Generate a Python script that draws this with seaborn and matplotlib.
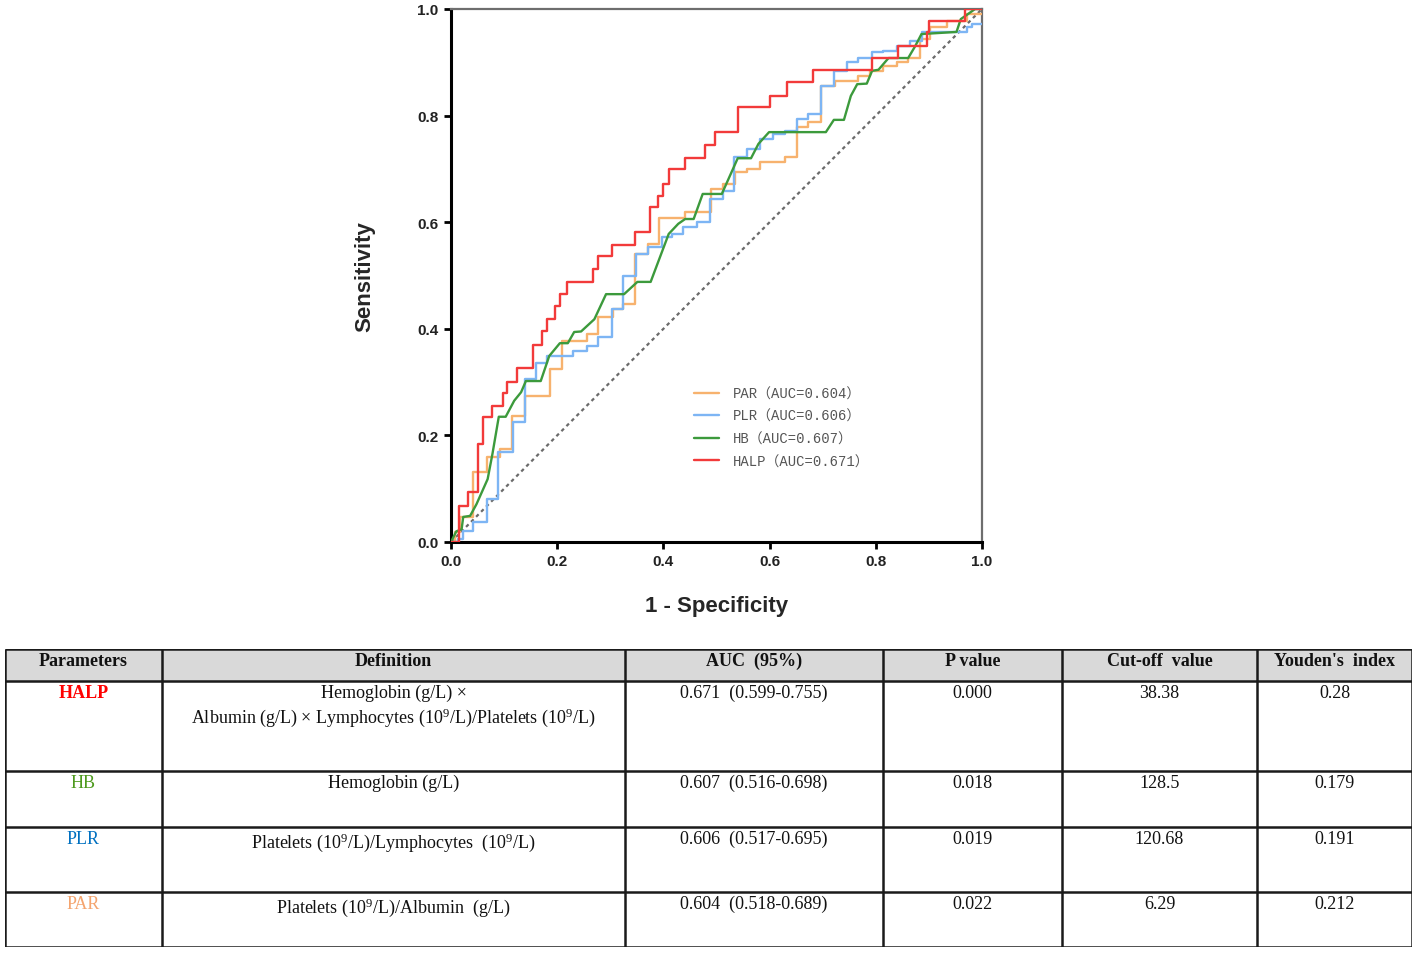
import numpy as np
import pandas as pd
import matplotlib
matplotlib.use("Agg")
import matplotlib.pyplot as plt
import seaborn as sns
from matplotlib.font_manager import FontProperties

sns.set_theme(style="white")
plt.rcParams['font.family'] = ['Liberation Sans', 'DejaVu Sans']
plt.rcParams['mathtext.fontset'] = 'custom'
plt.rcParams['mathtext.rm'] = 'Liberation Serif'
plt.rcParams['mathtext.it'] = 'Liberation Serif:italic'
plt.rcParams['mathtext.bf'] = 'Liberation Serif:bold'

# ---- ROC curve points ----
# step curves (PAR, PLR, HALP) are given as step-post corners
par_fpr = [0, 0.008, 0.017, 0.042, 0.067, 0.092, 0.114, 0.139, 0.186, 0.209, 0.256, 0.277,
           0.305, 0.324, 0.347, 0.371, 0.392, 0.44, 0.49, 0.513, 0.535, 0.557, 0.582, 0.629,
           0.652, 0.673, 0.697, 0.723, 0.767, 0.789, 0.814, 0.84, 0.861, 0.883, 0.902, 0.934,
           0.971, 1.0]
par_tpr = [0, 0.019, 0.047, 0.131, 0.16, 0.175, 0.236, 0.274, 0.325, 0.377, 0.39, 0.422,
           0.437, 0.447, 0.54, 0.559, 0.608, 0.62, 0.662, 0.672, 0.694, 0.70, 0.713, 0.722,
           0.779, 0.788, 0.855, 0.865, 0.874, 0.884, 0.893, 0.90, 0.908, 0.944, 0.966, 0.977,
           0.99, 0.99]

plr_fpr = [0, 0.013, 0.023, 0.042, 0.067, 0.089, 0.117, 0.139, 0.161, 0.18, 0.23, 0.256,
           0.277, 0.303, 0.324, 0.348, 0.371, 0.397, 0.416, 0.437, 0.463, 0.488, 0.512, 0.533,
           0.557, 0.582, 0.607, 0.629, 0.651, 0.673, 0.697, 0.721, 0.746, 0.767, 0.793, 0.814,
           0.84, 0.864, 0.887, 0.971, 0.981, 1.0]
plr_tpr = [0, 0.006, 0.02, 0.037, 0.08, 0.169, 0.225, 0.306, 0.335, 0.349, 0.358, 0.368,
           0.385, 0.437, 0.50, 0.54, 0.553, 0.572, 0.578, 0.591, 0.60, 0.643, 0.659, 0.722,
           0.737, 0.756, 0.765, 0.771, 0.794, 0.803, 0.855, 0.884, 0.90, 0.908, 0.919, 0.921,
           0.93, 0.94, 0.957, 0.966, 0.972, 0.972]

hb_fpr = [0, 0.01, 0.02, 0.023, 0.036, 0.048, 0.069, 0.078, 0.09, 0.103, 0.119, 0.132,
          0.141, 0.169, 0.185, 0.205, 0.22, 0.232, 0.245, 0.27, 0.292, 0.326, 0.351, 0.376,
          0.41, 0.428, 0.441, 0.457, 0.474, 0.51, 0.54, 0.565, 0.579, 0.599, 0.706, 0.721,
          0.74, 0.753, 0.765, 0.783, 0.793, 0.805, 0.824, 0.861, 0.874, 0.886, 0.952, 0.96,
          0.987, 1.0]
hb_tpr = [0, 0.02, 0.024, 0.047, 0.049, 0.071, 0.118, 0.165, 0.235, 0.235, 0.265, 0.281,
          0.302, 0.302, 0.349, 0.373, 0.373, 0.394, 0.395, 0.418, 0.465, 0.465, 0.488, 0.488,
          0.578, 0.597, 0.606, 0.606, 0.653, 0.653, 0.72, 0.72, 0.747, 0.769, 0.769, 0.792,
          0.792, 0.837, 0.859, 0.86, 0.884, 0.886, 0.908, 0.908, 0.93, 0.953, 0.957, 0.981,
          1.0, 1.0]

halp_fpr = [0, 0.015, 0.032, 0.05, 0.06, 0.077, 0.097, 0.105, 0.125, 0.154, 0.171, 0.18,
            0.196, 0.205, 0.218, 0.267, 0.277, 0.303, 0.346, 0.375, 0.39, 0.40, 0.41, 0.44,
            0.478, 0.497, 0.541, 0.601, 0.633, 0.682, 0.793, 0.842, 0.896, 0.90, 0.968, 1.0]
halp_tpr = [0, 0.068, 0.094, 0.184, 0.235, 0.255, 0.28, 0.30, 0.326, 0.37, 0.395, 0.418,
            0.443, 0.465, 0.488, 0.512, 0.537, 0.557, 0.582, 0.628, 0.65, 0.672, 0.70, 0.72,
            0.745, 0.769, 0.816, 0.837, 0.863, 0.886, 0.908, 0.93, 0.957, 0.977, 1.0, 1.0]

legend_labels = ['PAR（AUC=0.604）', 'PLR（AUC=0.606）', 'HB（AUC=0.607）', 'HALP（AUC=0.671）']

# ---- table contents ----
col_headers = ['Parameters', 'Definition', 'AUC  (95%)', 'P value', 'Cut-off  value', "Youden's  index"]
params = ['HALP', 'HB', 'PLR', 'PAR']
definitions = ['Hemoglobin (g/L) ×\nAlbumin (g/L) × Lymphocytes (10$^{9}$/L)/Platelets (10$^{9}$/L)',
               'Hemoglobin (g/L)',
               'Platelets (10$^{9}$/L)/Lymphocytes  (10$^{9}$/L)',
               'Platelets (10$^{9}$/L)/Albumin  (g/L)']
auc_ci = ['0.671  (0.599-0.755)', '0.607  (0.516-0.698)', '0.606  (0.517-0.695)', '0.604  (0.518-0.689)']
p_values = ['0.000', '0.018', '0.019', '0.022']
cutoffs = ['38.38', '128.5', '120.68', '6.29']
youden = ['0.28', '0.179', '0.191', '0.212']

# colours
c_par, c_plr, c_hb, c_halp = '#F7B26E', '#7DB5F4', '#3C9A3C', '#F23A3A'
param_colors = ['#FF0000', '#4E9A1E', '#0070C0', '#F4A46E']

W, H = 1417, 954
fig = plt.figure(figsize=(W / 100, H / 100), dpi=100)

# ==========================================
# ROC plot
# ==========================================
ax = fig.add_axes([451 / W, 1 - 543 / H, 531 / W, 533 / H])

ax.axline((0, 0), slope=1, color='#6b6b6b', lw=1.6, ls=(0, (1.6, 1.6)), zorder=1)

curves = [(par_fpr, par_tpr, c_par, 'steps-post'),
          (plr_fpr, plr_tpr, c_plr, 'steps-post'),
          (hb_fpr, hb_tpr, c_hb, 'default'),
          (halp_fpr, halp_tpr, c_halp, 'steps-post')]
for (fx, ty, col, ds), lab in zip(curves, legend_labels):
    sns.lineplot(x=fx, y=ty, ax=ax, color=col, lw=1.7, label=lab,
                 estimator=None, sort=False, drawstyle=ds, zorder=3)

ax.set_xlim(0, 1)
ax.set_ylim(0, 1)
ax.set_xticks(np.arange(0, 1.01, 0.2))
ax.set_yticks(np.arange(0, 1.01, 0.2))
ax.set_xticklabels([f'{v:.1f}' for v in np.arange(0, 1.01, 0.2)])
ax.set_yticklabels([f'{v:.1f}' for v in np.arange(0, 1.01, 0.2)])
ax.tick_params(axis='both', direction='out', length=5, width=2, color='black',
               labelsize=11, pad=4, bottom=True, left=True)
for lbl in ax.get_xticklabels() + ax.get_yticklabels():
    lbl.set_fontweight('bold')
    lbl.set_color('#222222')

for side in ['left', 'bottom']:
    ax.spines[side].set_color('black')
    ax.spines[side].set_linewidth(2.2)
for side in ['top', 'right']:
    ax.spines[side].set_color('#6e6e6e')
    ax.spines[side].set_linewidth(1.6)

ax.set_xlabel('1 - Specificity', fontsize=16, fontweight='bold', labelpad=19)
ax.set_ylabel('Sensitivity', fontsize=16, fontweight='bold', labelpad=30)

leg = ax.legend(loc='upper left', bbox_to_anchor=(0.445, 0.305), frameon=False,
                prop=FontProperties(family=['Liberation Mono', 'Noto Sans CJK SC'], size=10),
                handlelength=1.8, handletextpad=1.0, labelspacing=0.62, borderpad=0)
for t in leg.get_texts():
    t.set_color('#555555')

# ==========================================
# Table below the plot
# ==========================================
tx0, tx1, ty0, ty1 = 5, 1412, 650, 948
axt = fig.add_axes([tx0 / W, 1 - ty1 / H, (tx1 - tx0) / W, (ty1 - ty0) / H])
axt.set_xlim(tx0, tx1)
axt.set_ylim(ty1, ty0)
axt.axis('off')

col_edges = [5, 162, 625, 883, 1062, 1257, 1412]
row_edges = [650, 682, 772, 828, 893, 948]

axt.axhspan(row_edges[0], row_edges[1], color='#d9d9d9', zorder=0)
axt.hlines(row_edges, col_edges[0], col_edges[-1], color='#1a1a1a', lw=1.8, zorder=2)
axt.vlines(col_edges, row_edges[0], row_edges[-1], color='#1a1a1a', lw=1.8, zorder=2)

serif = ['Liberation Serif', 'DejaVu Serif']
centers = [(col_edges[i] + col_edges[i + 1]) / 2 for i in range(len(col_edges) - 1)]

for cx, head in zip(centers, col_headers):
    axt.text(cx, row_edges[0] + 3, head, ha='center', va='top', family=serif,
             fontsize=13, fontweight='bold', color='#111111')

for i in range(len(params)):
    top = row_edges[i + 1] + 3
    axt.text(centers[0], top, params[i], ha='center', va='top', family=serif,
             fontsize=13, fontweight='bold' if i == 0 else 'normal', color=param_colors[i])
    axt.text(centers[1], top, definitions[i], ha='center', va='top', family=serif,
             fontsize=13, color='#111111', linespacing=1.25)
    for cx, val in zip(centers[2:], [auc_ci[i], p_values[i], cutoffs[i], youden[i]]):
        axt.text(cx, top, val, ha='center', va='top', family=serif,
                 fontsize=13, color='#111111')

fig.savefig('out.png', dpi=100, facecolor='white')
